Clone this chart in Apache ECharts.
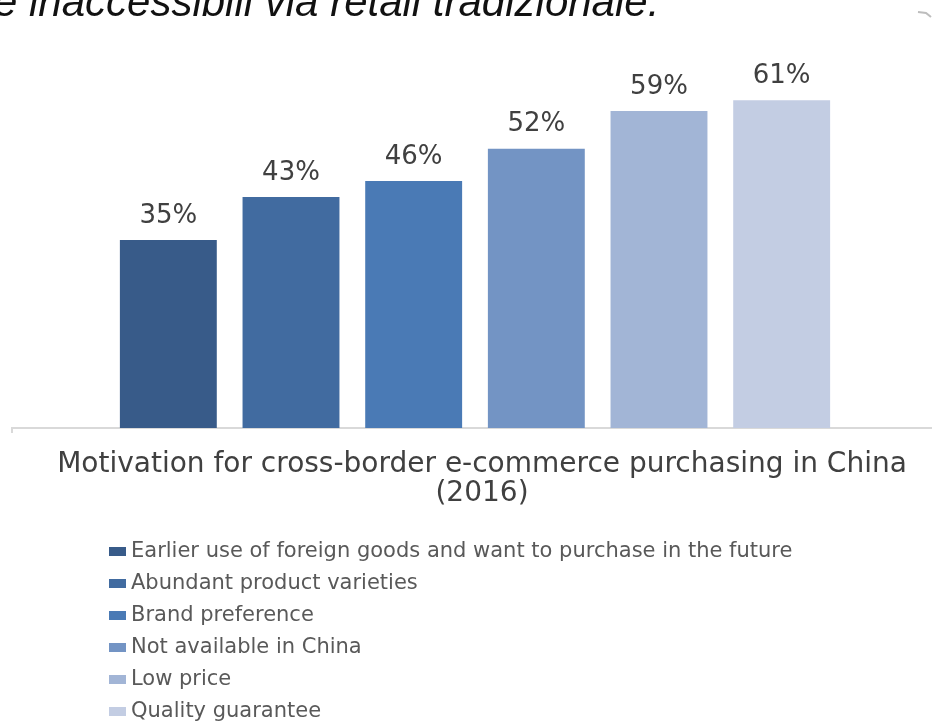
<!DOCTYPE html>
<html>
<head>
<meta charset="utf-8">
<script src="https://cdn.jsdelivr.net/npm/echarts@6/dist/echarts.min.js"></script>
<style>
html,body{margin:0;padding:0;background:#fff;}
#chart{width:932px;height:723px;}
</style>
</head>
<body>
<div id="chart"></div>
<script>
const categories = [
  'Earlier use of foreign goods and want to purchase in the future',
  'Abundant product varieties',
  'Brand preference',
  'Not available in China',
  'Low price',
  'Quality guarantee'
];
const values = [35, 43, 46, 52, 59, 61];
const colors = ['#385B89', '#416BA0', '#4A7AB5', '#7394C4', '#A2B5D6', '#C3CDE3'];
const titleLines = ['Motivation for cross-border e-commerce purchasing in China', '(2016)'];
const headerText = 'e inaccessibili via retail tradizionale.';

const chart = echarts.init(document.getElementById('chart'), null, {renderer: 'canvas'});

const series = categories.map((name, i) => ({
  name: name,
  type: 'bar',
  stack: 'all',
  barCategoryGap: '21%',
  itemStyle: {color: colors[i]},
  label: {
    show: true,
    position: 'top',
    distance: 11,
    formatter: '{c}%',
    color: '#404040',
    fontFamily: 'DejaVu Sans',
    fontSize: 26
  },
  data: values.map((v, j) => (j === i ? v : null))
}));

chart.setOption({
  animation: false,
  backgroundColor: '#ffffff',
  title: {
    text: titleLines.join('\n'),
    left: 477,
    top: 445,
    textAlign: 'center',
    textStyle: {
      fontFamily: 'DejaVu Sans',
      fontSize: 28,
      fontWeight: 'normal',
      color: '#404040',
      lineHeight: 29
    }
  },
  legend: {
    orient: 'vertical',
    left: 104,
    top: 536,
    height: 400,
    itemWidth: 17,
    itemHeight: 9,
    itemGap: 11,
    icon: 'rect',
    selectedMode: false,
    textStyle: {
      fontFamily: 'DejaVu Sans',
      fontSize: 21,
      color: '#595959',
      lineHeight: 21,
      padding: [0, 0, 0, 0]
    },
    data: categories
  },
  grid: {left: 107, width: 736, top: 52, bottom: 295, containLabel: false},
  xAxis: {
    type: 'category',
    data: categories,
    axisLine: {show: false},
    axisTick: {show: false},
    axisLabel: {show: false}
  },
  yAxis: {
    type: 'value',
    min: 0,
    max: 70,
    show: false,
    splitLine: {show: false}
  },
  graphic: [
    {
      type: 'polyline',
      shape: {points: [[12, 433], [12, 428], [932, 428]]},
      style: {stroke: '#d9d9d9', lineWidth: 2, fill: null},
      silent: true
    },
    {
      type: 'text',
      left: -6,
      top: -17,
      style: {
        text: headerText,
        fontFamily: 'Liberation Sans',
        fontStyle: 'italic',
        fontSize: 42,
        fill: '#111111'
      },
      silent: true
    },
    {
      type: 'polyline',
      shape: {points: [[918, 12], [926, 13], [931, 17]]},
      style: {stroke: '#bdbdbd', lineWidth: 2, fill: null},
      silent: true
    }
  ],
  series: series
});
</script>
</body>
</html>
